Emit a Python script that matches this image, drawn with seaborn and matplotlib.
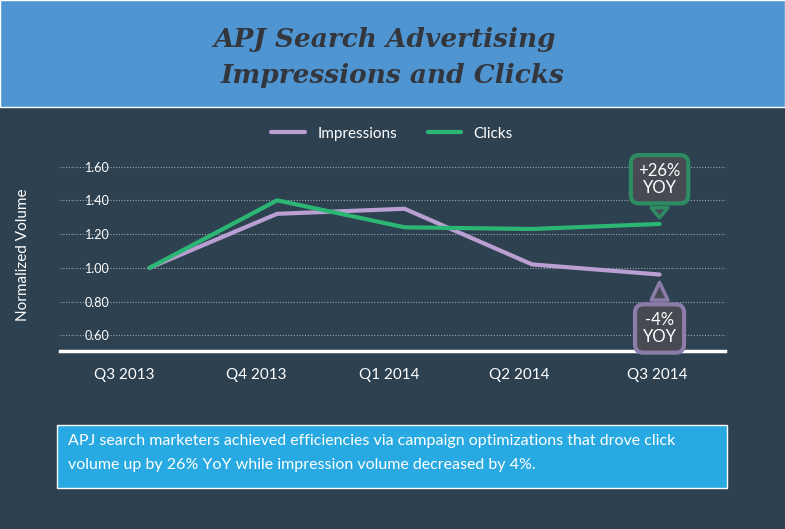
import matplotlib
matplotlib.use("Agg")
import matplotlib.pyplot as plt
import seaborn as sns
import pandas as pd
from matplotlib.patches import Rectangle

quarters = ["Q3 2013", "Q4 2013", "Q1 2014", "Q2 2014", "Q3 2014"]
impressions = [1.00, 1.32, 1.35, 1.02, 0.96]
clicks = [1.00, 1.40, 1.24, 1.23, 1.26]
yticks = [0.60, 0.80, 1.00, 1.20, 1.40, 1.60]

sns.set_theme(style="dark")
plt.rcParams['font.family'] = ['Lato', 'DejaVu Sans']
BG = "#2e4151"
fig = plt.figure(figsize=(7.85, 5.29), dpi=100, facecolor=BG)

# header band
fig.patches.append(Rectangle((0, 1 - 107/529), 1, 107/529, transform=fig.transFigure,
                             facecolor="#4f95d1", zorder=0))
fig.text(0.49, 0.925, "APJ Search Advertising", ha="center", va="center",
         family="DejaVu Serif", weight="bold", style="italic", fontsize=19, color="#33363d")
fig.text(0.50, 0.858, "Impressions and Clicks", ha="center", va="center",
         family="DejaVu Serif", weight="bold", style="italic", fontsize=19, color="#33363d")

ax = fig.add_axes([0.076, 0.336, 0.847, 0.365])
ax.set_facecolor(BG)
df = pd.DataFrame({"x": list(range(5)) * 2,
                   "v": impressions + clicks,
                   "s": ["Impressions"] * 5 + ["Clicks"] * 5})
sns.lineplot(data=df, x="x", y="v", hue="s", palette={"Impressions": "#b99fd2", "Clicks": "#2bb673"},
             linewidth=3, ax=ax)
ax.set_xlim(-0.706, 4.51)
ax.set_ylim(0.505, 1.65)
ax.set_yticks(yticks)
ax.set_yticklabels([f"{t:.2f}" for t in yticks], color="white", fontsize=9)
ax.yaxis.grid(True, color="#9aa4ad", linestyle=(0, (1, 1.5)), linewidth=0.8)
ax.xaxis.grid(False)
ax.set_xticks([-0.2, 0.84, 1.88, 2.9, 3.98])
ax.set_xticklabels(quarters, color="white", fontsize=11)
ax.tick_params(axis="x", pad=12, length=0)
ax.tick_params(axis="y", length=0, pad=-18)
for lab in ax.get_yticklabels():
    lab.set_ha("left")
for s in ["top", "right", "left"]:
    ax.spines[s].set_visible(False)
ax.spines["bottom"].set_color("white")
ax.spines["bottom"].set_linewidth(2.5)
ax.set_xlabel("")
ax.set_ylabel("Normalized Volume", color="white", fontsize=11, labelpad=8)
ax.yaxis.set_label_coords(-0.045, 0.5)
leg = ax.legend(loc="lower center", bbox_to_anchor=(0.5, 1.02), ncol=2, frameon=False,
                fontsize=11, labelcolor="white", handlelength=2.2, columnspacing=2)
for h in leg.get_lines():
    h.set_linewidth(3)

# callouts
ax.annotate("+26%\nYOY", xy=(4, clicks[4] + 0.02), xytext=(4, 1.525), ha="center", va="center",
            color="white", fontsize=12, linespacing=1.1,
            bbox=dict(boxstyle="round,pad=0.45,rounding_size=0.5", fc="#474a52", ec="#2e8c63", lw=3),
            arrowprops=dict(arrowstyle="wedge,tail_width=1.0,shrink_factor=0.5", fc="#474a52", ec="#2e8c63", lw=2.5))
ax.annotate("-4%\nYOY", xy=(4, impressions[4] - 0.03), xytext=(4, 0.64), ha="center", va="center",
            color="white", fontsize=12, linespacing=1.1,
            bbox=dict(boxstyle="round,pad=0.45,rounding_size=0.5", fc="#474a52", ec="#8b7ca9", lw=3),
            arrowprops=dict(arrowstyle="wedge,tail_width=1.0,shrink_factor=0.5", fc="#474a52", ec="#8b7ca9", lw=2.5))

# footer box
fig.patches.append(Rectangle((57/785, 1 - 488/529), 670/785, 63/529, transform=fig.transFigure,
                             facecolor="#28a9e1", zorder=0))
fig.text(68/785, 1 - 441/529, "APJ search marketers achieved efficiencies via campaign optimizations that drove click",
         color="white", fontsize=11.5, va="center")
fig.text(68/785, 1 - 465/529, "volume up by 26% YoY while impression volume decreased by 4%.",
         color="white", fontsize=11.5, va="center")

fig.savefig("out.png", dpi=100, facecolor=BG)
